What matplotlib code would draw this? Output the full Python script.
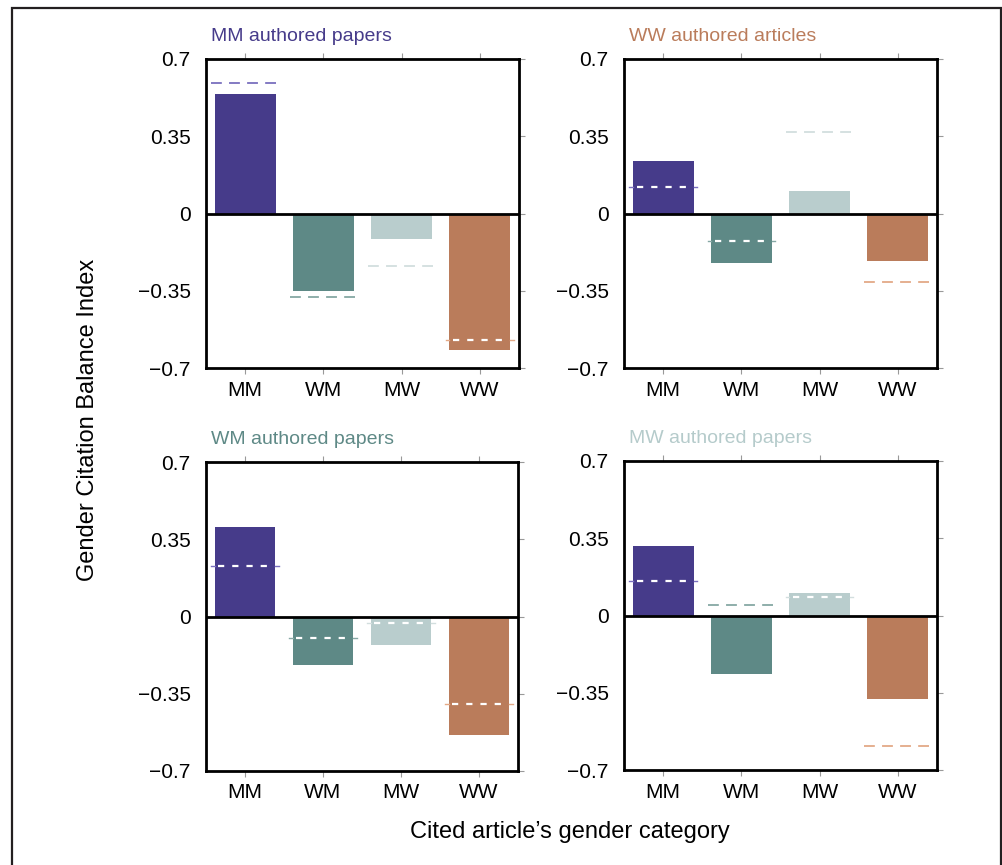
import matplotlib
matplotlib.use('Agg')
import matplotlib.pyplot as plt
from matplotlib.patches import Rectangle

plt.rcParams['font.family'] = ['Liberation Sans', 'DejaVu Sans']
plt.rcParams['axes.unicode_minus'] = True

# categories of the cited article
categories = ['MM', 'WM', 'MW', 'WW']

# panel titles (citing article group)
panel_titles = ['MM authored papers', 'WW authored articles',
                'WM authored papers', 'MW authored papers']

# bar values (observed) per panel
bars_mm = [0.543, -0.349, -0.115, -0.618]
bars_ww = [0.236, -0.226, 0.104, -0.217]
bars_wm = [0.406, -0.221, -0.131, -0.539]
bars_mw = [0.314, -0.267, 0.104, -0.377]

# dashed reference values per panel
ref_mm = [0.589, -0.378, -0.237, -0.574]
ref_ww = [0.119, -0.123, 0.367, -0.312]
ref_wm = [0.231, -0.098, -0.030, -0.396]
ref_mw = [0.158, 0.047, 0.083, -0.590]

bar_colors = ['#463B8A', '#5E8986', '#B9CDCD', '#BA7C5B']
dash_colors = ['#7A70BE', '#86A8A4', '#D2DEDE', '#E3A987']
title_colors = ['#463B8A', '#BA7C5B', '#5E8986', '#B5CBCB']

panels = [(bars_mm, ref_mm), (bars_ww, ref_ww), (bars_wm, ref_wm), (bars_mw, ref_mw)]

W, H = 1003, 865
fig = plt.figure(figsize=(W / 100, H / 100), dpi=100)
fig.patch.set_facecolor('white')

# outer frame (bottom edge falls outside the picture)
fig.add_artist(Rectangle((12 / W, -0.05), (1001 - 12) / W, (H - 8) / H + 0.05,
                         transform=fig.transFigure, fill=False,
                         edgecolor='#231f20', lw=1.6))

# axes boxes in pixels: left, top, right, bottom
boxes = [(206, 59, 519, 368), (624, 59, 937, 368),
         (206, 462, 518, 771), (624, 461, 937, 770)]

for k, ((vals, refs), (x0, y0, x1, y1)) in enumerate(zip(panels, boxes)):
    ax = fig.add_axes([x0 / W, (H - y1) / H, (x1 - x0) / W, (y1 - y0) / H])
    xs = range(len(categories))
    ax.bar(xs, vals, width=0.78, color=bar_colors, zorder=2)
    ax.axhline(0, color='black', lw=2, zorder=3)
    for i, (v, r) in enumerate(zip(vals, refs)):
        inside = (v * r > 0) and abs(r) < abs(v)
        if inside:
            # short coloured stubs where the line pokes out of the bar
            ax.plot([i - 0.43, i - 0.39], [r, r], color=dash_colors[i], lw=1.0, zorder=3)
            ax.plot([i + 0.39, i + 0.43], [r, r], color=dash_colors[i], lw=1.0, zorder=3)
            ax.plot([i - 0.34, i + 0.36], [r, r], color='white', lw=1.6,
                    linestyle=(0, (2.8, 3.6)), zorder=4)
        else:
            ax.plot([i - 0.43, i + 0.43], [r, r], color=dash_colors[i], lw=1.3,
                    linestyle=(0, (6, 4)), zorder=4)
    ax.set_xlim(-0.5, 3.5)
    ax.set_ylim(-0.7, 0.7)
    ax.set_xticks(list(xs))
    ax.set_xticklabels(categories, fontsize=15)
    ax.set_yticks([0.7, 0.35, 0, -0.35, -0.7])
    ax.set_yticklabels(['0.7', '0.35', '0', '\u22120.35', '\u22120.7'], fontsize=15)
    ax.tick_params(axis='x', which='both', top=True, bottom=True, direction='out',
                   length=4, width=0.8, color='#999999', pad=5)
    ax.tick_params(axis='y', which='both', left=False, right=True, direction='out',
                   length=4, width=0.8, color='#999999', pad=7)
    for s in ax.spines.values():
        s.set_linewidth(2)
        s.set_color('black')
    ax.text(0.015, 1.045, panel_titles[k], transform=ax.transAxes, fontsize=14,
            color=title_colors[k], ha='left', va='bottom')

fig.text(88 / W, 1 - 420 / H, 'Gender Citation Balance Index', rotation=90,
         fontsize=17, ha='center', va='center')
fig.text(570 / W, 1 - 832 / H, 'Cited article\u2019s gender category',
         fontsize=17, ha='center', va='center')

fig.savefig('out.png', dpi=100, facecolor='white')
plt.close(fig)
